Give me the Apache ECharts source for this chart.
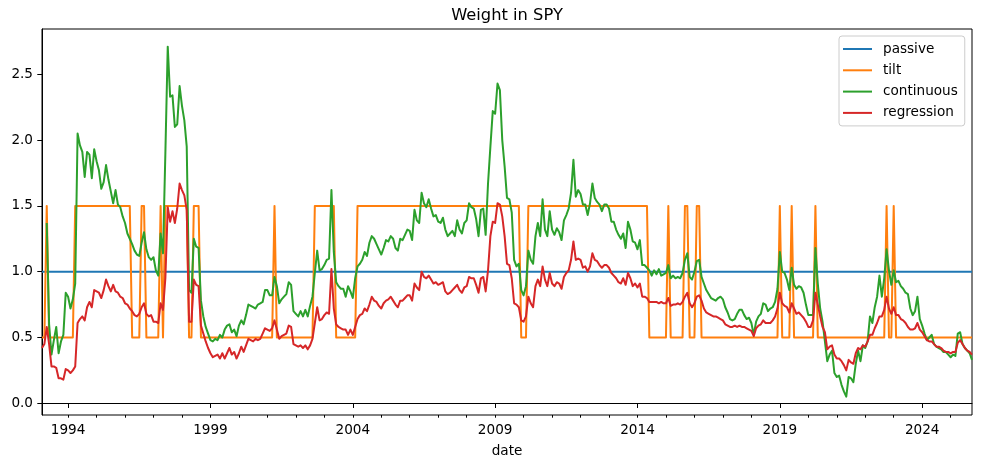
<!DOCTYPE html>
<html><head><meta charset="utf-8">
<script src="https://cdn.jsdelivr.net/npm/echarts@6/dist/echarts.min.js"></script>
<style>html,body{margin:0;padding:0;background:#fff}#c{width:981px;height:468px}</style>
</head><body><div id="c"></div>
<script>
// monthly (month-end) observations starting January 1993
const startYear = 1993;
const seriesNames = ['passive', 'tilt', 'continuous', 'regression'];
const passiveWeight = 1.0;

const tilt = [
  0.5,0.5,1.5,0.5,0.5,0.5,0.5,0.5,0.5,0.5,0.5,0.5, // 1993
  0.5,0.5,1.5,1.5,1.5,1.5,1.5,1.5,1.5,1.5,1.5,1.5, // 1994
  1.5,1.5,1.5,1.5,1.5,1.5,1.5,1.5,1.5,1.5,1.5,1.5, // 1995
  1.5,1.5,0.5,0.5,0.5,0.5,1.5,1.5,0.5,0.5,0.5,0.5, // 1996
  0.5,0.5,1.5,0.5,1.5,1.5,1.5,1.5,1.5,1.5,1.5,1.5, // 1997
  1.5,1.5,0.5,0.5,1.5,1.5,1.5,0.5,0.5,0.5,0.5,0.5, // 1998
  0.5,0.5,0.5,0.5,0.5,0.5,0.5,0.5,0.5,0.5,0.5,0.5, // 1999
  0.5,0.5,0.5,0.5,0.5,0.5,0.5,0.5,0.5,0.5,0.5,0.5, // 2000
  0.5,0.5,1.5,0.5,0.5,0.5,0.5,0.5,0.5,0.5,0.5,0.5, // 2001
  0.5,0.5,0.5,0.5,0.5,0.5,0.5,1.5,1.5,1.5,1.5,1.5, // 2002
  1.5,1.5,1.5,1.5,0.5,0.5,0.5,0.5,0.5,0.5,0.5,0.5, // 2003
  0.5,1.5,1.5,1.5,1.5,1.5,1.5,1.5,1.5,1.5,1.5,1.5, // 2004
  1.5,1.5,1.5,1.5,1.5,1.5,1.5,1.5,1.5,1.5,1.5,1.5, // 2005
  1.5,1.5,1.5,1.5,1.5,1.5,1.5,1.5,1.5,1.5,1.5,1.5, // 2006
  1.5,1.5,1.5,1.5,1.5,1.5,1.5,1.5,1.5,1.5,1.5,1.5, // 2007
  1.5,1.5,1.5,1.5,1.5,1.5,1.5,1.5,1.5,1.5,1.5,1.5, // 2008
  1.5,1.5,1.5,1.5,1.5,1.5,1.5,1.5,1.5,1.5,0.5,0.5, // 2009
  0.5,1.5,1.5,1.5,1.5,1.5,1.5,1.5,1.5,1.5,1.5,1.5, // 2010
  1.5,1.5,1.5,1.5,1.5,1.5,1.5,1.5,1.5,1.5,1.5,1.5, // 2011
  1.5,1.5,1.5,1.5,1.5,1.5,1.5,1.5,1.5,1.5,1.5,1.5, // 2012
  1.5,1.5,1.5,1.5,1.5,1.5,1.5,1.5,1.5,1.5,1.5,1.5, // 2013
  1.5,1.5,1.5,1.5,0.5,0.5,0.5,0.5,0.5,0.5,0.5,0.5, // 2014
  1.5,0.5,0.5,0.5,0.5,0.5,0.5,1.5,1.5,0.5,0.5,0.5, // 2015
  1.5,1.5,0.5,0.5,0.5,0.5,0.5,0.5,0.5,0.5,0.5,0.5, // 2016
  0.5,0.5,0.5,0.5,0.5,0.5,0.5,0.5,0.5,0.5,0.5,0.5, // 2017
  0.5,0.5,0.5,0.5,0.5,0.5,0.5,0.5,0.5,0.5,0.5,1.5, // 2018
  0.5,0.5,0.5,0.5,1.5,0.5,0.5,0.5,0.5,0.5,0.5,0.5, // 2019
  0.5,0.5,1.5,0.5,0.5,0.5,0.5,0.5,0.5,0.5,0.5,0.5, // 2020
  0.5,0.5,0.5,0.5,0.5,0.5,0.5,0.5,0.5,0.5,0.5,0.5, // 2021
  0.5,0.5,0.5,0.5,0.5,0.5,0.5,0.5,1.5,0.5,0.5,1.5, // 2022
  0.5,0.5,0.5,0.5,0.5,0.5,0.5,0.5,0.5,0.5,0.5,0.5, // 2023
  0.5,0.5,0.5,0.5,0.5,0.5,0.5,0.5,0.5,0.5,0.5,0.5, // 2024
  0.5,0.5,0.5,0.5,0.5,0.5,0.5,0.5,0.5              // 2025
];

const continuous = [
  null,null,1.37,0.60,0.37,0.48,0.58,0.38,0.47,0.52,0.84,0.81, // 1993
  0.72,0.79,0.91,2.05,1.96,1.91,1.72,1.91,1.89,1.71,1.93,1.84, // 1994
  1.77,1.63,1.68,1.81,1.70,1.61,1.52,1.62,1.51,1.49,1.42,1.37, // 1995
  1.29,1.25,1.21,1.16,1.13,1.12,1.22,1.30,1.17,1.11,1.09,1.11, // 1996
  1.01,0.97,1.29,1.14,1.90,2.71,2.33,2.34,2.10,2.12,2.41,2.26, // 1997
  2.15,1.95,0.86,0.84,1.25,1.19,1.18,0.78,0.66,0.58,0.53,0.48, // 1998
  0.47,0.49,0.48,0.52,0.50,0.56,0.59,0.60,0.54,0.56,0.51,0.59, // 1999
  0.63,0.60,0.67,0.75,0.74,0.73,0.72,0.75,0.76,0.77,0.86,0.86, // 2000
  0.82,0.82,0.96,0.89,0.76,0.79,0.81,0.83,0.92,0.90,0.70,0.68, // 2001
  0.66,0.70,0.66,0.71,0.66,0.74,0.81,0.99,1.16,1.01,1.02,1.05, // 2002
  1.09,1.10,1.62,1.15,0.92,0.89,0.87,0.87,0.81,0.89,0.85,0.80, // 2003
  0.95,1.04,1.06,1.09,1.15,1.12,1.22,1.27,1.25,1.21,1.17,1.13, // 2004
  1.18,1.24,1.23,1.27,1.25,1.18,1.16,1.25,1.24,1.28,1.32,1.31, // 2005
  1.24,1.47,1.39,1.37,1.60,1.52,1.49,1.55,1.48,1.42,1.43,1.38, // 2006
  1.37,1.41,1.32,1.27,1.29,1.31,1.27,1.39,1.32,1.29,1.37,1.39, // 2007
  1.52,1.49,1.48,1.40,1.27,1.47,1.48,1.28,1.67,1.95,2.22,2.20, // 2008
  2.43,2.38,2.00,1.80,1.56,1.55,1.45,1.09,1.04,1.06,0.86,0.82, // 2009
  0.89,1.16,1.09,1.06,1.27,1.37,1.27,1.55,1.32,1.27,1.46,1.32, // 2010
  1.28,1.33,1.30,1.24,1.39,1.43,1.48,1.60,1.85,1.57,1.62,1.59, // 2011
  1.51,1.51,1.43,1.52,1.67,1.56,1.53,1.51,1.46,1.51,1.51,1.48, // 2012
  1.38,1.38,1.32,1.28,1.25,1.29,1.18,1.38,1.32,1.23,1.22,1.17, // 2013
  1.24,1.05,1.05,1.03,1.01,0.97,1.01,0.98,1.02,0.97,0.98,0.99, // 2014
  1.05,0.95,0.97,0.95,0.96,0.95,0.99,1.09,1.14,0.96,0.94,1.00, // 2015
  1.08,1.09,0.96,0.91,0.86,0.83,0.80,0.79,0.78,0.80,0.81,0.79, // 2016
  0.73,0.69,0.64,0.63,0.64,0.68,0.71,0.71,0.67,0.64,0.65,0.61, // 2017
  0.52,0.62,0.66,0.68,0.76,0.75,0.70,0.72,0.73,0.77,0.87,1.15, // 2018
  1.00,0.99,0.94,0.86,1.03,0.90,0.87,0.89,0.88,0.84,0.75,0.67, // 2019
  0.67,0.67,1.18,0.91,0.72,0.62,0.47,0.32,0.37,0.40,0.23,0.20, // 2020
  0.21,0.14,0.09,0.05,0.20,0.19,0.16,0.30,0.40,0.32,0.44,0.42, // 2021
  0.47,0.66,0.61,0.73,0.81,0.97,0.81,0.95,1.17,1.01,0.90,1.01, // 2022
  0.92,0.93,0.89,0.87,0.84,0.83,0.72,0.67,0.70,0.81,0.64,0.59, // 2023
  0.53,0.48,0.50,0.52,0.45,0.43,0.42,0.41,0.39,0.39,0.37,0.35, // 2024
  0.37,0.36,0.53,0.54,0.45,0.42,0.40,0.38,0.33                 // 2025
];

const regression = [
  0.42,0.45,0.58,0.45,0.28,0.28,0.27,0.19,0.19,0.18,0.26,0.25, // 1993
  0.23,0.25,0.28,0.61,0.64,0.66,0.63,0.73,0.77,0.73,0.86,0.85, // 1994
  0.84,0.80,0.86,0.94,0.89,0.85,0.90,0.85,0.84,0.81,0.80,0.76, // 1995
  0.75,0.72,0.70,0.67,0.66,0.68,0.73,0.76,0.68,0.66,0.67,0.62, // 1996
  0.62,0.61,0.76,0.71,0.95,1.49,1.38,1.46,1.37,1.48,1.67,1.62, // 1997
  1.58,1.47,0.62,0.62,0.94,0.90,0.89,0.59,0.53,0.47,0.42,0.38, // 1998
  0.35,0.36,0.37,0.34,0.38,0.34,0.38,0.42,0.37,0.39,0.34,0.38, // 1999
  0.43,0.39,0.44,0.49,0.48,0.47,0.49,0.48,0.49,0.53,0.57,0.56, // 2000
  0.55,0.57,0.63,0.56,0.49,0.51,0.52,0.53,0.59,0.58,0.45,0.44, // 2001
  0.43,0.44,0.42,0.44,0.41,0.44,0.49,0.61,0.73,0.63,0.64,0.67, // 2002
  0.69,0.68,1.02,0.72,0.60,0.58,0.57,0.56,0.56,0.52,0.56,0.52, // 2003
  0.58,0.64,0.67,0.68,0.72,0.70,0.75,0.81,0.78,0.77,0.74,0.72, // 2004
  0.76,0.78,0.79,0.81,0.78,0.75,0.73,0.78,0.78,0.80,0.82,0.82, // 2005
  0.78,0.91,0.88,0.86,1.00,0.96,0.95,0.97,0.94,0.91,0.92,0.90, // 2006
  0.91,0.92,0.85,0.83,0.84,0.86,0.88,0.90,0.86,0.84,0.88,0.89, // 2007
  0.96,0.95,0.95,0.90,0.84,0.95,0.96,0.85,1.01,1.27,1.38,1.37, // 2008
  1.52,1.51,1.42,1.27,1.06,1.05,0.95,0.76,0.75,0.73,0.63,0.62, // 2009
  0.66,0.81,0.76,0.73,0.89,0.94,0.89,1.04,0.94,0.89,0.99,0.91, // 2010
  0.89,0.92,0.91,0.87,0.96,0.99,1.01,1.09,1.23,1.09,1.10,1.09, // 2011
  1.03,1.04,1.00,1.04,1.14,1.09,1.08,1.05,1.03,1.05,1.05,1.03, // 2012
  0.99,0.97,0.95,0.92,0.91,0.95,0.90,0.99,0.95,0.89,0.91,0.88, // 2013
  0.91,0.81,0.81,0.80,0.77,0.77,0.77,0.77,0.76,0.77,0.76,0.76, // 2014
  0.80,0.74,0.75,0.75,0.76,0.75,0.77,0.81,0.84,0.76,0.73,0.76, // 2015
  0.81,0.82,0.78,0.72,0.69,0.68,0.67,0.66,0.66,0.65,0.64,0.63, // 2016
  0.60,0.59,0.58,0.58,0.59,0.58,0.59,0.58,0.58,0.57,0.56,0.55, // 2017
  0.51,0.57,0.59,0.60,0.63,0.61,0.61,0.61,0.63,0.66,0.72,0.84, // 2018
  0.76,0.74,0.73,0.69,0.76,0.72,0.68,0.69,0.67,0.65,0.62,0.58, // 2019
  0.58,0.63,0.84,0.75,0.66,0.58,0.54,0.41,0.43,0.44,0.37,0.34, // 2020
  0.34,0.32,0.29,0.25,0.33,0.31,0.30,0.38,0.42,0.41,0.44,0.43, // 2021
  0.47,0.52,0.52,0.57,0.61,0.66,0.66,0.71,0.81,0.72,0.68,0.73, // 2022
  0.67,0.67,0.64,0.63,0.61,0.58,0.56,0.56,0.57,0.61,0.56,0.54, // 2023
  0.51,0.48,0.47,0.47,0.45,0.43,0.43,0.42,0.40,0.39,0.39,0.38, // 2024
  0.39,0.39,0.46,0.48,0.45,0.42,0.40,0.39,0.37                 // 2025
];

const xMajorTicks = [1994, 1999, 2004, 2009, 2014, 2019, 2024];
const xMinorTicks = [1994,1995,1996,1997,1998,1999,2000,2001,2002,2003,2004,2005,2006,2007,2008,
  2009,2010,2011,2012,2013,2014,2015,2016,2017,2018,2019,2020,2021,2022,2023,2024,2025];
const yTicks = [0, 0.5, 1.0, 1.5, 2.0, 2.5];

// month-end dates as fractional years
const n = continuous.length;
const dates = [];
for (let i = 0; i < n; i++) dates.push(startYear + (i + 1) / 12);
const pair = arr => dates.map((d, i) => [d, arr[i]]);
const passive = dates.map(d => [d, passiveWeight]);

const FONT = 'DejaVu Sans';
const colors = ['#1f77b4', '#ff7f0e', '#2ca02c', '#d62728'];
const xMin = dates[0], xMax = dates[n - 1];

const chart = echarts.init(document.getElementById('c'));
const mkLine = (name, data, color) => ({
  name, type: 'line', data, showSymbol: false, symbol: 'none', animation: false,
  lineStyle: { color, width: 2, cap: 'butt', join: 'round' }, itemStyle: { color },
  emphasis: { disabled: true }, xAxisIndex: 0, yAxisIndex: 0, clip: true
});

chart.setOption({
  animation: false,
  backgroundColor: '#fff',
  textStyle: { fontFamily: FONT },
  grid: { left: 42, right: 9, top: 29, bottom: 53, show: true, borderColor: '#000', borderWidth: 1, backgroundColor: 'transparent' },
  graphic: [{
    type: 'text', x: 507, y: 16,
    style: { text: 'Weight in SPY', fontFamily: FONT, fontSize: 16.3, fill: '#000', align: 'center', verticalAlign: 'middle' }
  }],
  legend: {
    orient: 'vertical', left: 839, top: 36,
    data: seriesNames,
    icon: 'rect', itemWidth: 29, itemHeight: 2, itemGap: 5.3,
    padding: [5, 7, 5, 4],
    backgroundColor: '#fff', borderColor: '#cccccc', borderWidth: 1, borderRadius: 3,
    textStyle: { fontFamily: FONT, fontSize: 13.6, color: '#000', lineHeight: 16, padding: [0, 0, 0, 6] },
    selectedMode: false
  },
  xAxis: [{
    type: 'value', min: xMin, max: xMax, position: 'bottom',
    name: 'date', nameLocation: 'middle', nameGap: 29,
    nameTextStyle: { fontFamily: FONT, fontSize: 13.6, color: '#000', verticalAlign: 'top' },
    axisLine: { show: true, lineStyle: { color: '#000', width: 1 } },
    axisTick: { show: true, customValues: xMajorTicks, length: 4.7, inside: false, lineStyle: { color: '#000', width: 1 } },
    axisLabel: { show: true, customValues: xMajorTicks, formatter: v => String(Math.round(v)), margin: 8,
      fontFamily: FONT, fontSize: 13.6, color: '#000' },
    splitLine: { show: false }
  }, {
    type: 'value', min: xMin, max: xMax, position: 'bottom',
    axisLine: { show: false },
    axisTick: { show: true, customValues: xMinorTicks, length: 2.7, inside: false, lineStyle: { color: '#000', width: 1 } },
    axisLabel: { show: false },
    splitLine: { show: false }
  }],
  yAxis: [{
    type: 'value', min: -0.089, max: 2.844,
    axisLine: { show: true, lineStyle: { color: '#000', width: 1 } },
    axisTick: { show: true, customValues: yTicks, length: 4.7, inside: false, lineStyle: { color: '#000', width: 1 } },
    axisLabel: { show: true, customValues: yTicks, formatter: v => v.toFixed(1), margin: 9,
      fontFamily: FONT, fontSize: 13.6, color: '#000' },
    splitLine: { show: false }
  }],
  series: [
    mkLine('passive', passive, colors[0]),
    mkLine('tilt', pair(tilt), colors[1]),
    mkLine('continuous', pair(continuous), colors[2]),
    mkLine('regression', pair(regression), colors[3])
  ]
});
</script></body></html>
